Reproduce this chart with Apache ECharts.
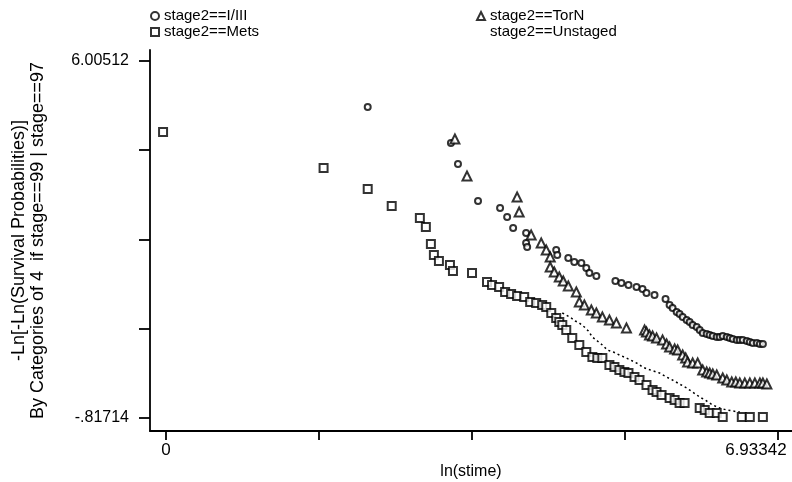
<!DOCTYPE html>
<html><head><meta charset="utf-8">
<script src="https://cdn.jsdelivr.net/npm/echarts@6/dist/echarts.min.js"></script>
<style>html,body{margin:0;padding:0;background:#fff}#c{width:792px;height:482px}</style>
</head><body><div id="c"></div>
<script>
// ---- data (x = ln(stime), y = -ln(-ln(S))) ----
const seriesNames = ['stage2==I/III', 'stage2==Mets', 'stage2==TorN', 'stage2==Unstaged'];

const stageI_x = [2.285,3.228,3.308,3.535,3.785,3.865,3.933,4.080,4.080,4.092,4.421,4.433,4.558,4.626,4.706,4.762,4.797,4.876,5.092,5.160,5.240,5.331,5.399,5.444,5.535,5.660,5.706,5.740,5.786,5.819,5.854,5.899,5.933,5.967,6.013,6.047,6.081,6.126,6.160,6.195,6.240,6.274,6.308,6.354,6.388,6.422,6.467,6.501,6.535,6.581,6.615,6.649,6.695,6.729,6.763];
const stageI_y = [5.126,4.438,4.037,3.330,3.196,3.024,2.814,2.718,2.527,2.451,2.393,2.298,2.240,2.164,2.145,2.049,1.954,1.896,1.801,1.763,1.724,1.686,1.648,1.571,1.533,1.457,1.342,1.285,1.208,1.170,1.113,1.056,1.017,0.960,0.922,0.864,0.807,0.788,0.769,0.750,0.731,0.731,0.750,0.731,0.712,0.693,0.673,0.673,0.673,0.654,0.635,0.616,0.616,0.597,0.597];

const mets_x = [-0.034,1.785,2.285,2.557,2.876,2.944,3.001,3.035,3.092,3.217,3.251,3.467,3.637,3.694,3.774,3.842,3.910,3.978,4.058,4.126,4.194,4.262,4.308,4.365,4.421,4.456,4.490,4.535,4.603,4.683,4.762,4.831,4.887,4.944,5.024,5.081,5.137,5.194,5.240,5.308,5.365,5.444,5.513,5.558,5.615,5.706,5.763,5.819,5.876,6.047,6.104,6.160,6.240,6.308,6.524,6.615,6.763];
const mets_y = [4.648,3.960,3.559,3.234,3.005,2.833,2.508,2.298,2.183,2.107,1.992,1.954,1.782,1.724,1.686,1.591,1.552,1.514,1.495,1.399,1.380,1.342,1.304,1.189,1.094,1.017,0.960,0.864,0.712,0.578,0.444,0.348,0.329,0.329,0.196,0.157,0.100,0.062,0.043,-0.034,-0.091,-0.187,-0.282,-0.321,-0.378,-0.435,-0.473,-0.531,-0.531,-0.626,-0.664,-0.722,-0.722,-0.798,-0.798,-0.798,-0.798];

const torn_x = [3.273,3.410,3.978,4.001,4.137,4.251,4.308,4.353,4.353,4.399,4.456,4.501,4.558,4.649,4.683,4.740,4.819,4.876,4.944,5.024,5.103,5.217,5.422,5.444,5.478,5.513,5.558,5.626,5.672,5.706,5.763,5.797,5.854,5.888,5.910,5.967,6.024,6.081,6.126,6.160,6.195,6.240,6.308,6.354,6.410,6.456,6.501,6.558,6.615,6.672,6.729,6.763,6.808];
const torn_y = [4.515,3.807,3.406,3.119,2.680,2.527,2.393,2.259,2.068,1.973,1.877,1.801,1.705,1.591,1.399,1.342,1.247,1.189,1.113,1.056,0.998,0.903,0.864,0.826,0.769,0.750,0.712,0.673,0.597,0.540,0.502,0.482,0.387,0.329,0.253,0.234,0.234,0.100,0.062,0.043,0.024,0.004,-0.053,-0.091,-0.129,-0.129,-0.148,-0.148,-0.148,-0.148,-0.148,-0.148,-0.168];

const unst_x = [4.490,4.535,4.592,4.637,4.683,4.740,4.785,4.831,4.887,4.944,5.001,5.069,5.137,5.217,5.308,5.354,5.399,5.456,5.524,5.592,5.672,5.740,5.819,5.899,5.967,6.047,6.126,6.195,6.274,6.354,6.422,6.501];
const unst_y = [1.189,1.151,1.094,1.036,0.998,0.922,0.846,0.731,0.655,0.578,0.482,0.444,0.387,0.329,0.253,0.215,0.157,0.119,0.081,0.043,-0.034,-0.091,-0.168,-0.244,-0.321,-0.416,-0.492,-0.569,-0.626,-0.664,-0.683,-0.703];

const xTicks = [0, 1.733355, 3.46671, 5.200065, 6.93342];
const xLabelValues = [0, 6.93342];
const xLabelTexts = ['0', '6.93342'];
const yTicks = [-0.81714, 0.888425, 2.59399, 4.299555, 6.00512];
const yLabelValues = [-0.81714, 6.00512];
const yLabelTexts = ['-.81714', '6.00512'];
const xTitle = 'ln(stime)';
const yTitle = '-Ln[-Ln(Survival Probabilities)]\nBy Categories of 4  if stage==99 | stage==97';

// ---- chart ----
const zip = (a, b) => a.map((v, i) => [v, b[i]]);
const FONT = 'Liberation Sans';
const chart = echarts.init(document.getElementById('c'), null, {renderer: 'canvas'});
const hollow = {color: '#fff', borderColor: '#000', borderWidth: 2};
chart.setOption({
  animation: false,
  backgroundColor: '#fff',
  textStyle: {fontFamily: FONT, color: '#000'},
  grid: {left: 150, right: 0, top: 50, bottom: 51, containLabel: false, outerBoundsMode: 'none'},
  legend: [
    {left: 145, top: 3, orient: 'vertical', itemWidth: 8, itemHeight: 8, itemGap: 0,
     textStyle: {fontSize: 15, fontFamily: FONT, color: '#000', lineHeight: 16},
     data: [seriesNames[0], seriesNames[1]]},
    {left: 471, top: 3, orient: 'vertical', itemWidth: 8, itemHeight: 8, itemGap: 0,
     textStyle: {fontSize: 15, fontFamily: FONT, color: '#000', lineHeight: 16},
     data: [seriesNames[2], {name: seriesNames[3], icon: 'none'}]}
  ],
  xAxis: {
    type: 'value', min: -0.182, max: 7.093,
    name: xTitle, nameLocation: 'middle', nameGap: 25,
    nameTextStyle: {fontSize: 16, fontFamily: FONT, color: '#000'},
    splitLine: {show: false},
    axisLine: {show: true, onZero: false, lineStyle: {color: '#000', width: 1.8}},
    axisTick: {show: true, inside: false, length: 9, customValues: xTicks, lineStyle: {color: '#000', width: 1.8}},
    axisLabel: {show: true, customValues: xLabelValues, margin: 11, fontSize: 17, color: '#000', fontFamily: FONT,
      formatter: v => {
        const i = xLabelValues.indexOf(v);
        const t = i >= 0 ? xLabelTexts[i] : '';
        return i === xLabelValues.length - 1 ? '{r|' + t + '}' : t;
      },
      rich: {r: {fontSize: 17, fontFamily: FONT, color: '#000', padding: [0, 44, 0, 0]}}
    }
  },
  yAxis: {
    type: 'value', min: -1.065, max: 6.215,
    name: yTitle, nameLocation: 'middle', nameRotate: 90, nameGap: 102,
    nameTextStyle: {fontSize: 18, fontFamily: FONT, color: '#000', lineHeight: 19, align: 'center'},
    splitLine: {show: false},
    axisLine: {show: true, onZero: false, lineStyle: {color: '#000', width: 1.8}},
    axisTick: {show: true, inside: false, length: 11, customValues: yTicks, lineStyle: {color: '#000', width: 1.8}},
    axisLabel: {show: true, customValues: yLabelValues, margin: 21, fontSize: 16, color: '#000', fontFamily: FONT,
      formatter: v => {
        const i = yLabelValues.indexOf(v);
        return i >= 0 ? yLabelTexts[i] : '';
      }
    }
  },
  series: [
    {name: seriesNames[0], type: 'scatter', symbol: 'circle', symbolSize: 6, itemStyle: hollow, data: zip(stageI_x, stageI_y)},
    {name: seriesNames[1], type: 'scatter', symbol: 'rect', symbolSize: 8, itemStyle: hollow, data: zip(mets_x, mets_y)},
    {name: seriesNames[2], type: 'scatter', symbol: 'triangle', symbolSize: 9, itemStyle: hollow, data: zip(torn_x, torn_y)},
    {name: seriesNames[3], type: 'line', showSymbol: false, symbol: 'none', smooth: false,
     lineStyle: {color: '#000', width: 1.5, type: [2, 3]}, itemStyle: {color: '#000'}, data: zip(unst_x, unst_y)}
  ]
});
</script></body></html>
